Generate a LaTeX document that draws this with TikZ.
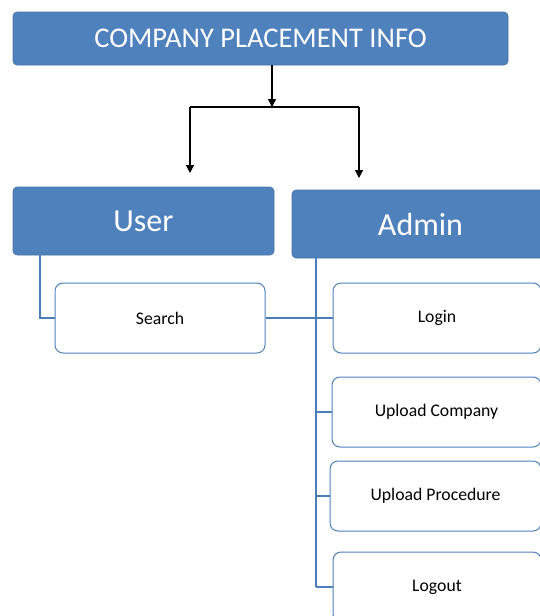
\documentclass[tikz,border=0pt]{standalone}
\usepackage{fontspec}
\setmainfont{Carlito}
\usetikzlibrary{arrows.meta,calc}
\definecolor{boxblue}{HTML}{4F81BD}
\definecolor{lineblue}{HTML}{4A7EBB}
\begin{document}
\begin{tikzpicture}[x=1pt,y=-1pt,
  headbox/.style={draw=boxblue!90!black,fill=boxblue,rounded corners=4pt,text=white,inner sep=0pt,line width=0.6pt},
  itembox/.style={draw=boxblue,fill=white,rounded corners=8pt,inner sep=0pt,line width=1pt,font=\fontsize{17.7}{20}\selectfont},
  conn/.style={draw=lineblue,line width=1.3pt},
  arr/.style={draw=black,line width=1.2pt,-{Triangle[width=8pt,length=8pt]}}]
\useasboundingbox (0,0) rectangle (540,616);
\node[headbox,minimum width=495pt,minimum height=53pt,font=\fontsize{28.5}{32}\selectfont] (title) at (260.5,38.5) {COMPANY PLACEMENT INFO};
\node[headbox,minimum width=261pt,minimum height=68pt,font=\fontsize{32}{36}\selectfont] (user) at (143.5,221) {User};
\node[headbox,minimum width=257pt,minimum height=68pt,font=\fontsize{32}{36}\selectfont] (admin) at (420.5,224) {Admin};
\node[itembox,minimum width=210pt,minimum height=70pt] (search) at (160,318) {Search};
\node[itembox,minimum width=208pt,minimum height=70pt] (login) at (437,318) {Login};
\node[itembox,minimum width=209pt,minimum height=70pt] (upc) at (436.5,412) {Upload Company};
\node[itembox,minimum width=211pt,minimum height=70pt] (upp) at (435.5,496) {Upload Procedure};
\node[itembox,minimum width=208pt,minimum height=70pt] (logout) at (437,587) {Logout};
% black arrows
\coordinate (c0) at (272,107);
\coordinate (cl) at (190,107);
\coordinate (cr) at (359,107);
\draw[arr] (title.south -| c0) -- (c0);
\draw[line width=1.2pt] (cl) -- (cr);
\draw[arr] (cl) -- (190,173);
\draw[arr] (cr) -- (359,178);
% blue connectors
\draw[conn] (user.south -| 40,0) |- (search.west);
\draw[conn] (search.east) -- (login.west);
\coordinate (abot) at (316,587);
\draw[conn] (admin.south -| abot) -- (abot);
\draw[conn] (upc.west -| abot) -- (upc.west);
\draw[conn] (upp.west -| abot) -- (upp.west);
\draw[conn] (abot) -- (logout.west);
\end{tikzpicture}
\end{document}
